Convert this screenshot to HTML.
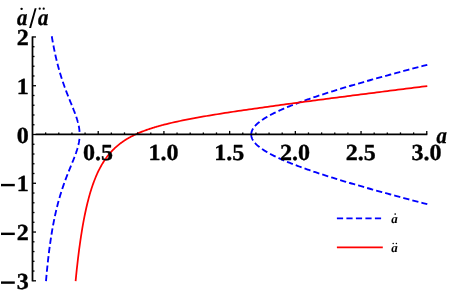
<!DOCTYPE html>
<html><head><meta charset="utf-8"><title>plot</title>
<style>
html,body{margin:0;padding:0;background:#fff;}
body{width:449px;height:295px;overflow:hidden;font-family:"Liberation Serif",serif;}
svg{display:block;text-rendering:geometricPrecision;will-change:transform;}
.lab{font-family:"Liberation Serif",serif;font-weight:bold;font-size:23px;fill:#000;}
.lab text{stroke:#000;stroke-width:0.35px;stroke-linejoin:round;}
.it{font-style:italic;}
.leg{font-family:"Liberation Serif",serif;font-weight:bold;font-style:italic;font-size:13px;fill:#000;}
</style></head><body>
<svg width="449" height="295" viewBox="0 0 449 295">
<rect width="449" height="295" fill="#fff"/>
<g fill="none" stroke="#0000ff" stroke-width="1.85" stroke-dasharray="6.27 3.1" stroke-linejoin="round">
<path d="M51.77 36.23 L52.12 38.31 L52.47 40.31 L52.81 42.24 L53.16 44.10 L53.50 45.90 L53.83 47.63 L54.17 49.31 L54.50 50.94 L54.84 52.51 L55.17 54.03 L55.49 55.51 L55.82 56.95 L56.14 58.34 L56.46 59.69 L56.78 61.01 L57.10 62.28 L57.41 63.53 L57.72 64.74 L58.03 65.92 L58.34 67.07 L58.64 68.19 L58.95 69.28 L59.25 70.35 L59.55 71.39 L59.84 72.40 L60.14 73.40 L60.43 74.37 L60.72 75.32 L61.01 76.25 L61.29 77.15 L61.57 78.04 L61.86 78.91 L62.13 79.77 L62.41 80.60 L62.69 81.42 L62.96 82.23 L63.23 83.02 L63.50 83.79 L63.76 84.55 L64.02 85.30 L64.29 86.03 L64.54 86.75 L64.80 87.45 L65.06 88.15 L65.31 88.83 L65.56 89.51 L65.81 90.17 L66.05 90.82 L66.30 91.46 L66.54 92.09 L66.78 92.71 L67.01 93.32 L67.25 93.92 L67.48 94.51 L67.71 95.10 L67.94 95.68 L68.16 96.24 L68.39 96.81 L68.61 97.36 L68.83 97.90 L69.05 98.44 L69.26 98.97 L69.47 99.50 L69.68 100.02 L69.89 100.53 L70.10 101.04 L70.30 101.54 L70.50 102.03 L70.70 102.52 L70.90 103.00 L71.09 103.48 L71.29 103.95 L71.48 104.41 L71.67 104.88 L71.85 105.33 L72.04 105.78 L72.22 106.23 L72.40 106.67 L72.58 107.11 L72.75 107.55 L72.92 107.98 L73.09 108.40 L73.26 108.82 L73.43 109.24 L73.59 109.66 L73.76 110.07 L73.92 110.47 L74.07 110.88 L74.23 111.28 L74.38 111.68 L74.53 112.07 L74.68 112.46 L74.83 112.85 L74.97 113.23 L75.11 113.61 L75.25 113.99 L75.39 114.37 L75.53 114.74 L75.66 115.11 L75.79 115.48 L75.92 115.84 L76.05 116.21 L76.17 116.57 L76.29 116.93 L76.41 117.28 L76.53 117.64 L76.65 117.99 L76.76 118.34 L76.87 118.69 L76.98 119.03 L77.09 119.38 L77.19 119.72 L77.30 120.06 L77.40 120.40 L77.49 120.73 L77.59 121.07 L77.68 121.40 L77.78 121.73 L77.86 122.06 L77.95 122.39 L78.04 122.72 L78.12 123.05 L78.20 123.37 L78.28 123.69 L78.35 124.02 L78.43 124.34 L78.50 124.66 L78.57 124.98 L78.64 125.29 L78.70 125.61 L78.76 125.93 L78.82 126.24 L78.88 126.55 L78.94 126.87 L78.99 127.18 L79.04 127.49 L79.09 127.80 L79.14 128.11 L79.19 128.42 L79.23 128.73 L79.27 129.03 L79.31 129.34 L79.35 129.65 L79.38 129.95 L79.41 130.26 L79.44 130.56 L79.47 130.87 L79.49 131.17 L79.52 131.48 L79.54 131.78 L79.56 132.08 L79.57 132.38 L79.59 132.69 L79.60 132.99 L79.61 133.29 L79.62 133.59 L79.62 133.90 L79.63 134.20 L79.63 134.50"/>
<path d="M45.99 281.05 L46.41 276.28 L46.83 271.80 L47.25 267.58 L47.66 263.60 L48.07 259.85 L48.48 256.30 L48.89 252.93 L49.29 249.74 L49.69 246.70 L50.09 243.81 L50.48 241.05 L50.88 238.41 L51.27 235.90 L51.65 233.49 L52.04 231.18 L52.42 228.96 L52.80 226.84 L53.18 224.79 L53.55 222.82 L53.92 220.93 L54.29 219.10 L54.66 217.34 L55.02 215.64 L55.38 213.99 L55.74 212.40 L56.09 210.87 L56.44 209.38 L56.79 207.93 L57.14 206.53 L57.49 205.17 L57.83 203.85 L58.17 202.57 L58.50 201.32 L58.84 200.11 L59.17 198.93 L59.50 197.78 L59.82 196.66 L60.15 195.57 L60.47 194.50 L60.79 193.46 L61.10 192.45 L61.41 191.46 L61.72 190.49 L62.03 189.55 L62.34 188.62 L62.64 187.72 L62.94 186.83 L63.23 185.96 L63.53 185.11 L63.82 184.28 L64.11 183.47 L64.39 182.67 L64.68 181.88 L64.96 181.11 L65.24 180.36 L65.51 179.62 L65.78 178.89 L66.06 178.17 L66.32 177.47 L66.59 176.78 L66.85 176.10 L67.11 175.43 L67.37 174.78 L67.62 174.13 L67.87 173.49 L68.12 172.87 L68.37 172.25 L68.61 171.64 L68.85 171.04 L69.09 170.45 L69.32 169.87 L69.56 169.29 L69.79 168.73 L70.01 168.17 L70.24 167.62 L70.46 167.07 L70.68 166.54 L70.90 166.00 L71.11 165.48 L71.32 164.96 L71.53 164.45 L71.74 163.95 L71.94 163.45 L72.14 162.95 L72.34 162.46 L72.54 161.98 L72.73 161.50 L72.92 161.03 L73.11 160.56 L73.29 160.10 L73.48 159.64 L73.65 159.19 L73.83 158.74 L74.01 158.29 L74.18 157.85 L74.35 157.42 L74.51 156.98 L74.68 156.55 L74.84 156.13 L75.00 155.71 L75.15 155.29 L75.30 154.87 L75.45 154.46 L75.60 154.05 L75.75 153.65 L75.89 153.24 L76.03 152.84 L76.17 152.45 L76.30 152.05 L76.43 151.66 L76.56 151.27 L76.69 150.89 L76.81 150.50 L76.93 150.12 L77.05 149.75 L77.17 149.37 L77.28 148.99 L77.39 148.62 L77.50 148.25 L77.60 147.88 L77.71 147.52 L77.81 147.15 L77.90 146.79 L78.00 146.43 L78.09 146.07 L78.18 145.71 L78.26 145.36 L78.35 145.00 L78.43 144.65 L78.51 144.30 L78.58 143.95 L78.66 143.60 L78.73 143.25 L78.80 142.91 L78.86 142.56 L78.92 142.22 L78.98 141.88 L79.04 141.53 L79.10 141.19 L79.15 140.85 L79.20 140.51 L79.24 140.18 L79.29 139.84 L79.33 139.50 L79.37 139.16 L79.40 138.83 L79.44 138.49 L79.47 138.16 L79.49 137.82 L79.52 137.49"/>
<path d="M251.25 134.50 L251.25 134.14 L251.27 133.78 L251.31 133.41 L251.36 133.05 L251.42 132.69 L251.50 132.32 L251.59 131.96 L251.69 131.60 L251.81 131.24 L251.94 130.87 L252.09 130.51 L252.25 130.14 L252.42 129.78 L252.61 129.42 L252.81 129.05 L253.03 128.69 L253.26 128.32 L253.50 127.96 L253.76 127.59 L254.03 127.22 L254.32 126.86 L254.62 126.49 L254.93 126.12 L255.26 125.75 L255.60 125.38 L255.95 125.01 L256.32 124.64 L256.71 124.27 L257.10 123.90 L257.51 123.53 L257.94 123.16 L258.38 122.79 L258.83 122.41 L259.30 122.04 L259.78 121.66 L260.27 121.29 L260.78 120.91 L261.30 120.53 L261.84 120.16 L262.39 119.78 L262.95 119.40 L263.53 119.02 L264.12 118.64 L264.73 118.26 L265.35 117.87 L265.98 117.49 L266.63 117.10 L267.29 116.72 L267.96 116.33 L268.65 115.94 L269.36 115.56 L270.07 115.17 L270.81 114.78 L271.55 114.38 L272.31 113.99 L273.08 113.60 L273.87 113.20 L274.67 112.81 L275.49 112.41 L276.31 112.01 L277.16 111.61 L278.01 111.21 L278.88 110.81 L279.77 110.41 L280.67 110.00 L281.58 109.60 L282.50 109.19 L283.44 108.78 L284.40 108.37 L285.37 107.96 L286.35 107.55 L287.34 107.14 L288.35 106.72 L289.38 106.31 L290.41 105.89 L291.47 105.47 L292.53 105.05 L293.61 104.63 L294.70 104.21 L295.81 103.78 L296.93 103.36 L298.07 102.93 L299.22 102.50 L300.38 102.07 L301.56 101.64 L302.75 101.21 L303.95 100.77 L305.17 100.34 L306.40 99.90 L307.65 99.46 L308.91 99.02 L310.18 98.58 L311.47 98.14 L312.77 97.69 L314.09 97.24 L315.42 96.79 L316.76 96.34 L318.12 95.89 L319.49 95.44 L320.88 94.98 L322.28 94.53 L323.69 94.07 L325.12 93.61 L326.56 93.15 L328.02 92.68 L329.49 92.22 L330.97 91.75 L332.47 91.28 L333.98 90.81 L335.50 90.34 L337.04 89.86 L338.59 89.39 L340.16 88.91 L341.74 88.43 L343.34 87.95 L344.94 87.46 L346.57 86.98 L348.20 86.49 L349.85 86.00 L351.52 85.51 L353.20 85.02 L354.89 84.52 L356.59 84.03 L358.31 83.53 L360.05 83.03 L361.80 82.53 L363.56 82.02 L365.33 81.52 L367.12 81.01 L368.93 80.50 L370.74 79.99 L372.57 79.47 L374.42 78.96 L376.28 78.44 L378.15 77.92 L380.04 77.40 L381.94 76.87 L383.86 76.35 L385.78 75.82 L387.73 75.29 L389.68 74.76 L391.65 74.22 L393.64 73.68 L395.64 73.15 L397.65 72.61 L399.68 72.06 L401.72 71.52 L403.77 70.97 L405.84 70.42 L407.92 69.87 L410.02 69.32 L412.13 68.76 L414.25 68.21 L416.39 67.65 L418.54 67.08 L420.71 66.52 L422.88 65.95 L425.08 65.39 L427.29 64.82"/>
<path d="M251.25 134.50 L251.25 134.86 L251.27 135.22 L251.31 135.59 L251.36 135.95 L251.42 136.31 L251.50 136.68 L251.59 137.04 L251.69 137.40 L251.81 137.76 L251.94 138.13 L252.09 138.49 L252.25 138.86 L252.42 139.22 L252.61 139.58 L252.81 139.95 L253.03 140.31 L253.26 140.68 L253.50 141.04 L253.76 141.41 L254.03 141.78 L254.32 142.14 L254.62 142.51 L254.93 142.88 L255.26 143.25 L255.60 143.62 L255.95 143.99 L256.32 144.36 L256.71 144.73 L257.10 145.10 L257.51 145.47 L257.94 145.84 L258.38 146.21 L258.83 146.59 L259.30 146.96 L259.78 147.34 L260.27 147.71 L260.78 148.09 L261.30 148.47 L261.84 148.84 L262.39 149.22 L262.95 149.60 L263.53 149.98 L264.12 150.36 L264.73 150.74 L265.35 151.13 L265.98 151.51 L266.63 151.90 L267.29 152.28 L267.96 152.67 L268.65 153.06 L269.36 153.44 L270.07 153.83 L270.81 154.22 L271.55 154.62 L272.31 155.01 L273.08 155.40 L273.87 155.80 L274.67 156.19 L275.49 156.59 L276.31 156.99 L277.16 157.39 L278.01 157.79 L278.88 158.19 L279.77 158.59 L280.67 159.00 L281.58 159.40 L282.50 159.81 L283.44 160.22 L284.40 160.63 L285.37 161.04 L286.35 161.45 L287.34 161.86 L288.35 162.28 L289.38 162.69 L290.41 163.11 L291.47 163.53 L292.53 163.95 L293.61 164.37 L294.70 164.79 L295.81 165.22 L296.93 165.64 L298.07 166.07 L299.22 166.50 L300.38 166.93 L301.56 167.36 L302.75 167.79 L303.95 168.23 L305.17 168.66 L306.40 169.10 L307.65 169.54 L308.91 169.98 L310.18 170.42 L311.47 170.86 L312.77 171.31 L314.09 171.76 L315.42 172.21 L316.76 172.66 L318.12 173.11 L319.49 173.56 L320.88 174.02 L322.28 174.47 L323.69 174.93 L325.12 175.39 L326.56 175.85 L328.02 176.32 L329.49 176.78 L330.97 177.25 L332.47 177.72 L333.98 178.19 L335.50 178.66 L337.04 179.14 L338.59 179.61 L340.16 180.09 L341.74 180.57 L343.34 181.05 L344.94 181.54 L346.57 182.02 L348.20 182.51 L349.85 183.00 L351.52 183.49 L353.20 183.98 L354.89 184.48 L356.59 184.97 L358.31 185.47 L360.05 185.97 L361.80 186.47 L363.56 186.98 L365.33 187.48 L367.12 187.99 L368.93 188.50 L370.74 189.01 L372.57 189.53 L374.42 190.04 L376.28 190.56 L378.15 191.08 L380.04 191.60 L381.94 192.13 L383.86 192.65 L385.78 193.18 L387.73 193.71 L389.68 194.24 L391.65 194.78 L393.64 195.32 L395.64 195.85 L397.65 196.39 L399.68 196.94 L401.72 197.48 L403.77 198.03 L405.84 198.58 L407.92 199.13 L410.02 199.68 L412.13 200.24 L414.25 200.79 L416.39 201.35 L418.54 201.92 L420.71 202.48 L422.88 203.05 L425.08 203.61 L427.29 204.18"/>
<line x1="336.9" y1="218.3" x2="381.2" y2="218.3" stroke-dasharray="6.2 3.3"/>
</g>
<g fill="none" stroke="#ff0000" stroke-width="1.75" stroke-linejoin="round">
<path d="M75.60 281.05 L76.19 275.09 L76.78 269.42 L77.38 264.05 L77.97 258.94 L78.56 254.08 L79.15 249.46 L79.75 245.06 L80.34 240.87 L80.93 236.87 L81.53 233.06 L82.12 229.42 L82.71 225.95 L83.30 222.62 L83.90 219.45 L84.49 216.41 L85.08 213.50 L85.68 210.71 L86.27 208.04 L86.86 205.47 L87.45 203.02 L88.05 200.66 L88.64 198.39 L89.23 196.21 L89.82 194.12 L90.42 192.11 L91.01 190.17 L91.60 188.30 L92.20 186.51 L92.79 184.78 L93.38 183.11 L93.97 181.50 L94.57 179.95 L95.16 178.45 L95.75 177.01 L96.34 175.61 L96.94 174.26 L97.53 172.95 L98.12 171.69 L98.72 170.47 L99.31 169.29 L99.90 168.15 L100.49 167.04 L101.09 165.96 L101.68 164.92 L102.27 163.92 L102.87 162.94 L103.46 161.99 L104.05 161.07 L104.64 160.17 L105.24 159.31 L105.83 158.46 L106.42 157.64 L107.01 156.85 L107.61 156.07 L108.20 155.32 L108.79 154.59 L109.39 153.87 L109.98 153.18 L110.57 152.50 L111.16 151.84 L111.76 151.20 L112.35 150.57 L112.94 149.96 L113.54 149.37 L114.13 148.79 L114.72 148.22 L115.31 147.67 L115.91 147.13 L116.50 146.60 L117.09 146.09 L117.68 145.58 L118.28 145.09 L118.87 144.61 L119.46 144.14 L120.06 143.68 L120.65 143.23 L121.24 142.79 L121.83 142.36 L122.43 141.94 L123.02 141.53 L123.61 141.12 L124.20 140.73 L124.80 140.34 L125.39 139.96 L125.98 139.59 L126.58 139.22 L127.17 138.86 L127.76 138.51 L128.35 138.17 L128.95 137.83 L129.54 137.49 L130.13 137.17 L130.73 136.85 L131.32 136.53 L131.91 136.22 L132.50 135.92 L133.10 135.62 L133.69 135.32 L134.28 135.04 L134.87 134.75 L135.47 134.47 L136.06 134.20 L136.65 133.93 L137.25 133.66 L137.84 133.40 L138.43 133.14 L139.02 132.89 L139.62 132.64 L140.21 132.39 L140.80 132.15 L141.39 131.91 L141.99 131.67 L142.58 131.44 L143.17 131.21 L143.77 130.98 L144.36 130.76 L144.95 130.54 L145.54 130.32 L146.14 130.11 L146.73 129.89 L147.32 129.69 L147.92 129.48 L148.51 129.28 L149.10 129.08 L149.69 128.88 L150.29 128.68 L150.88 128.49 L151.47 128.29 L152.06 128.11 L152.66 127.92 L153.25 127.73 L153.84 127.55 L154.44 127.37 L155.03 127.19 L155.62 127.01 L156.21 126.84 L156.81 126.66 L157.40 126.49 L157.99 126.32 L158.59 126.16 L159.18 125.99 L159.77 125.82 L160.36 125.66 L160.96 125.50 L161.55 125.34 L162.14 125.18 L162.73 125.02 L163.33 124.87 L163.92 124.72 L166.58 124.04 L169.24 123.39 L171.90 122.76 L174.56 122.16 L177.22 121.57 L179.88 121.00 L182.54 120.45 L185.20 119.91 L187.86 119.38 L190.52 118.87 L193.18 118.37 L195.84 117.88 L198.50 117.39 L201.16 116.92 L203.82 116.46 L206.48 116.00 L209.14 115.55 L211.80 115.11 L214.46 114.67 L217.13 114.24 L219.79 113.81 L222.45 113.39 L225.11 112.98 L227.77 112.56 L230.43 112.16 L233.09 111.75 L235.75 111.35 L238.41 110.96 L241.07 110.56 L243.73 110.17 L246.39 109.78 L249.05 109.40 L251.71 109.02 L254.37 108.64 L257.03 108.26 L259.69 107.88 L262.35 107.51 L265.01 107.14 L267.67 106.77 L270.33 106.40 L272.99 106.03 L275.65 105.67 L278.31 105.30 L280.97 104.94 L283.63 104.58 L286.29 104.22 L288.95 103.86 L291.61 103.50 L294.27 103.15 L296.93 102.79 L299.59 102.44 L302.25 102.08 L304.91 101.73 L307.57 101.38 L310.23 101.03 L312.89 100.68 L315.55 100.33 L318.22 99.98 L320.88 99.63 L323.54 99.28 L326.20 98.93 L328.86 98.59 L331.52 98.24 L334.18 97.90 L336.84 97.55 L339.50 97.21 L342.16 96.86 L344.82 96.52 L347.48 96.18 L350.14 95.83 L352.80 95.49 L355.46 95.15 L358.12 94.81 L360.78 94.47 L363.44 94.13 L366.10 93.79 L368.76 93.45 L371.42 93.11 L374.08 92.77 L376.74 92.43 L379.40 92.09 L382.06 91.75 L384.72 91.41 L387.38 91.07 L390.04 90.74 L392.70 90.40 L395.36 90.06 L398.02 89.72 L400.68 89.39 L403.34 89.05 L406.00 88.71 L408.66 88.38 L411.32 88.04 L413.98 87.70 L416.64 87.37 L419.30 87.03 L421.97 86.70 L424.63 86.36 L427.29 86.03"/>
<line x1="336.9" y1="247.4" x2="382.8" y2="247.4"/>
</g>
<g stroke="#000" stroke-width="1.75" fill="none">
<line x1="35.70" y1="134.40" x2="427.31" y2="134.40"/>
<line x1="32.50" y1="36.41" x2="32.50" y2="281.36"/>
</g>
<g stroke="#000" stroke-width="1.3" fill="none">
<line x1="45.64" y1="134.40" x2="45.64" y2="132.40"/>
<line x1="58.78" y1="134.40" x2="58.78" y2="132.40"/>
<line x1="71.93" y1="134.40" x2="71.93" y2="132.40"/>
<line x1="85.07" y1="134.40" x2="85.07" y2="132.40"/>
<line x1="98.21" y1="134.40" x2="98.21" y2="130.90"/>
<line x1="111.35" y1="134.40" x2="111.35" y2="132.40"/>
<line x1="124.49" y1="134.40" x2="124.49" y2="132.40"/>
<line x1="137.64" y1="134.40" x2="137.64" y2="132.40"/>
<line x1="150.78" y1="134.40" x2="150.78" y2="132.40"/>
<line x1="163.92" y1="134.40" x2="163.92" y2="130.90"/>
<line x1="177.06" y1="134.40" x2="177.06" y2="132.40"/>
<line x1="190.20" y1="134.40" x2="190.20" y2="132.40"/>
<line x1="203.35" y1="134.40" x2="203.35" y2="132.40"/>
<line x1="216.49" y1="134.40" x2="216.49" y2="132.40"/>
<line x1="229.63" y1="134.40" x2="229.63" y2="130.90"/>
<line x1="242.77" y1="134.40" x2="242.77" y2="132.40"/>
<line x1="255.91" y1="134.40" x2="255.91" y2="132.40"/>
<line x1="269.06" y1="134.40" x2="269.06" y2="132.40"/>
<line x1="282.20" y1="134.40" x2="282.20" y2="132.40"/>
<line x1="295.34" y1="134.40" x2="295.34" y2="130.90"/>
<line x1="308.48" y1="134.40" x2="308.48" y2="132.40"/>
<line x1="321.62" y1="134.40" x2="321.62" y2="132.40"/>
<line x1="334.77" y1="134.40" x2="334.77" y2="132.40"/>
<line x1="347.91" y1="134.40" x2="347.91" y2="132.40"/>
<line x1="361.05" y1="134.40" x2="361.05" y2="130.90"/>
<line x1="374.19" y1="134.40" x2="374.19" y2="132.40"/>
<line x1="387.33" y1="134.40" x2="387.33" y2="132.40"/>
<line x1="400.48" y1="134.40" x2="400.48" y2="132.40"/>
<line x1="413.62" y1="134.40" x2="413.62" y2="132.40"/>
<line x1="426.76" y1="134.40" x2="426.76" y2="130.90"/>
<line x1="32.50" y1="280.81" x2="36.00" y2="280.81"/>
<line x1="32.50" y1="271.06" x2="34.50" y2="271.06"/>
<line x1="32.50" y1="261.30" x2="34.50" y2="261.30"/>
<line x1="32.50" y1="251.55" x2="34.50" y2="251.55"/>
<line x1="32.50" y1="241.79" x2="34.50" y2="241.79"/>
<line x1="32.50" y1="232.04" x2="36.00" y2="232.04"/>
<line x1="32.50" y1="222.29" x2="34.50" y2="222.29"/>
<line x1="32.50" y1="212.53" x2="34.50" y2="212.53"/>
<line x1="32.50" y1="202.78" x2="34.50" y2="202.78"/>
<line x1="32.50" y1="193.02" x2="34.50" y2="193.02"/>
<line x1="32.50" y1="183.27" x2="36.00" y2="183.27"/>
<line x1="32.50" y1="173.52" x2="34.50" y2="173.52"/>
<line x1="32.50" y1="163.76" x2="34.50" y2="163.76"/>
<line x1="32.50" y1="154.01" x2="34.50" y2="154.01"/>
<line x1="32.50" y1="144.25" x2="34.50" y2="144.25"/>
<line x1="32.50" y1="134.50" x2="36.00" y2="134.50"/>
<line x1="32.50" y1="124.75" x2="34.50" y2="124.75"/>
<line x1="32.50" y1="114.99" x2="34.50" y2="114.99"/>
<line x1="32.50" y1="105.24" x2="34.50" y2="105.24"/>
<line x1="32.50" y1="95.48" x2="34.50" y2="95.48"/>
<line x1="32.50" y1="85.73" x2="36.00" y2="85.73"/>
<line x1="32.50" y1="75.98" x2="34.50" y2="75.98"/>
<line x1="32.50" y1="66.22" x2="34.50" y2="66.22"/>
<line x1="32.50" y1="56.47" x2="34.50" y2="56.47"/>
<line x1="32.50" y1="46.71" x2="34.50" y2="46.71"/>
<line x1="32.50" y1="36.96" x2="36.00" y2="36.96"/>
</g>
<g class="lab">
<text transform="translate(97.91,159.9) scale(1.045,1)" text-anchor="middle">0.5</text>
<text transform="translate(163.62,159.9) scale(1.045,1)" text-anchor="middle">1.0</text>
<text transform="translate(229.33,159.9) scale(1.045,1)" text-anchor="middle">1.5</text>
<text transform="translate(295.04,159.9) scale(1.045,1)" text-anchor="middle">2.0</text>
<text transform="translate(360.75,159.9) scale(1.045,1)" text-anchor="middle">2.5</text>
<text transform="translate(426.46,159.9) scale(1.045,1)" text-anchor="middle">3.0</text>
<text transform="translate(28.7,45.06) scale(1.045,1)" text-anchor="end">2</text>
<text transform="translate(28.7,93.83) scale(1.045,1)" text-anchor="end">1</text>
<text transform="translate(28.7,142.60) scale(1.045,1)" text-anchor="end">0</text>
<text transform="translate(28.7,191.37) scale(1.045,1)" text-anchor="end">1</text>
<rect x="1.0" y="183.87" width="13.8" height="2.4"/>
<text transform="translate(28.7,240.14) scale(1.045,1)" text-anchor="end">2</text>
<rect x="1.0" y="232.64" width="13.8" height="2.4"/>
<text transform="translate(28.7,288.91) scale(1.045,1)" text-anchor="end">3</text>
<rect x="1.0" y="281.41" width="13.8" height="2.4"/>
<text class="it" transform="translate(17.1,24.7) scale(0.93,1.03)" style="font-size:22.3px">a</text>
<text class="it" transform="translate(38.0,24.7) scale(0.93,1.03)" style="font-size:22.3px">a</text>
<polygon points="34.7,8.2 36.6,8.2 31.1,28.1 29.1,28.1"/>
<circle cx="21.6" cy="8.85" r="1.2"/>
<circle cx="39.7" cy="8.7" r="1.12"/>
<circle cx="43.7" cy="8.7" r="1.12"/>
<text class="it" transform="translate(436.5,142.7) scale(0.93,1.03)" style="font-size:22.3px">a</text>
</g>
<g class="leg">
<text x="391.2" y="223.0">a</text>
<circle cx="395.2" cy="214.0" r="0.85"/>
<text x="391.2" y="252.0">a</text>
<circle cx="393.2" cy="243.6" r="0.75"/>
<circle cx="396.4" cy="243.6" r="0.75"/>
</g>
</svg>
</body></html>
